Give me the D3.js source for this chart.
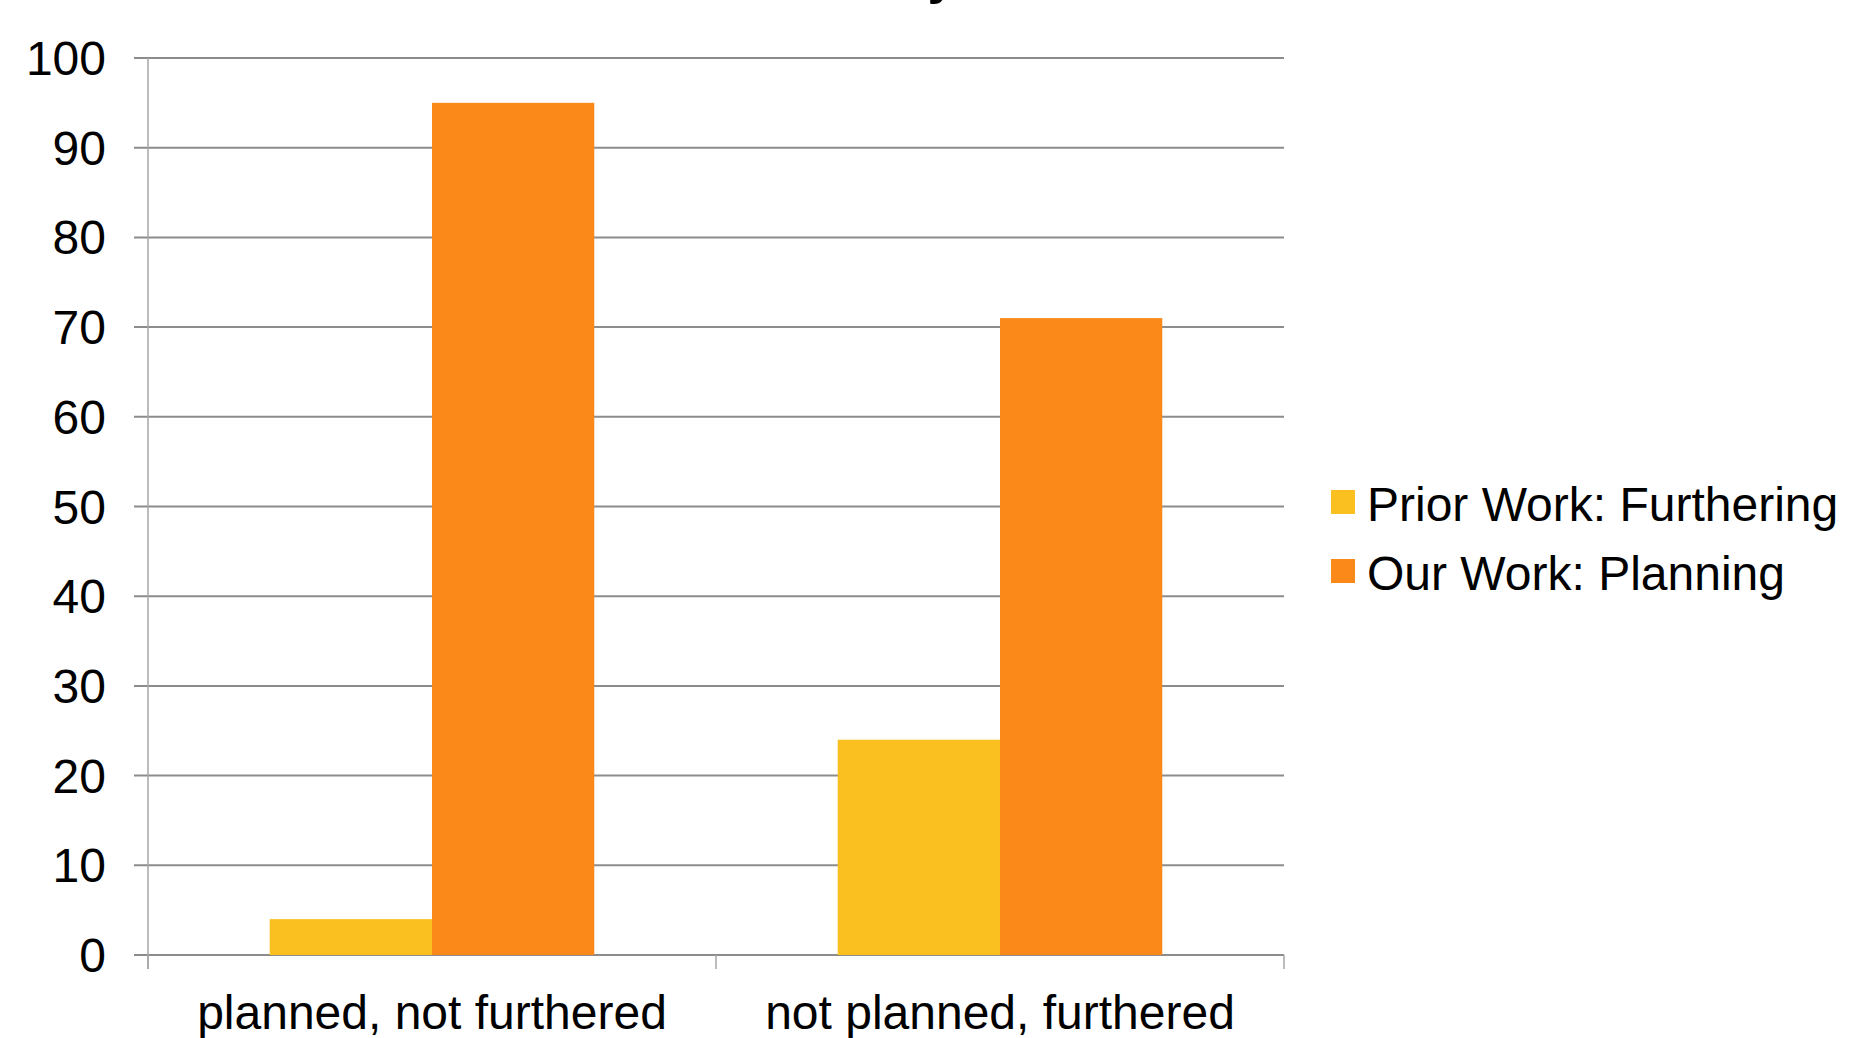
<!DOCTYPE html>
<html>
<head>
<meta charset="utf-8">
<script src="https://cdn.jsdelivr.net/npm/d3@7"></script>
<style>
  body { margin: 0; background: #fff; overflow: hidden; }
  text { font-family: "Liberation Sans", Arial, sans-serif; fill: #000; }
</style>
</head>
<body>
<div id="chart"></div>
<script>
// data
var categories = ["planned, not furthered", "not planned, furthered"];
var seriesNames = ["Prior Work: Furthering", "Our Work: Planning"];
var priorWork = [4, 24];
var ourWork = [95, 71];
var yTicks = [0, 10, 20, 30, 40, 50, 60, 70, 80, 90, 100];
var colours = ["#FAC020", "#FA8919"];

var width = 1849, height = 1038;
var plotLeft = 148, plotRight = 1284, plotTop = 58, plotBottom = 955;

var svg = d3.select("#chart").append("svg")
    .attr("width", width)
    .attr("height", height);

// title is cut off above the view, only the tail of a letter shows
svg.append("text")
    .attr("x", 942)
    .attr("y", -7)
    .attr("text-anchor", "middle")
    .style("font-size", "52px")
    .style("font-weight", "bold")
    .text("y");

var y = d3.scaleLinear().domain([0, 100]).range([plotBottom, plotTop]);
var x0 = d3.scaleBand().domain(categories).range([plotLeft, plotRight]).paddingInner(0).paddingOuter(0);
// gap width 150% -> bars take 2/3.5 of each band
var x1 = d3.scaleBand().domain(seriesNames).range([0, x0.bandwidth()]).paddingInner(0).paddingOuter(0.75);

// gridlines
svg.append("g")
  .selectAll("line")
  .data(yTicks)
  .enter().append("line")
    .attr("x1", plotLeft - 14)
    .attr("x2", plotRight)
    .attr("y1", function(d){ return y(d); })
    .attr("y2", function(d){ return y(d); })
    .style("stroke", "#8c8c8c")
    .style("stroke-width", 2);

// y axis line
svg.append("line")
    .attr("x1", plotLeft).attr("x2", plotLeft)
    .attr("y1", plotTop).attr("y2", plotBottom + 14)
    .style("stroke", "#a6a6a6")
    .style("stroke-width", 1.5);

// category dividers on x axis
var xTickPos = [plotLeft, plotLeft + x0.bandwidth(), plotRight];
svg.append("g")
  .selectAll("line")
  .data(xTickPos)
  .enter().append("line")
    .attr("x1", function(d){ return d; })
    .attr("x2", function(d){ return d; })
    .attr("y1", plotBottom)
    .attr("y2", plotBottom + 14)
    .style("stroke", "#a6a6a6")
    .style("stroke-width", 1.5);

// y tick labels
svg.append("g")
  .selectAll("text")
  .data(yTicks)
  .enter().append("text")
    .attr("x", 106)
    .attr("y", function(d){ return y(d) + 17; })
    .attr("text-anchor", "end")
    .style("font-size", "48px")
    .text(function(d){ return d; });

// bars
var rows = categories.map(function(c, i){
  return [
    {cat: c, name: seriesNames[0], value: priorWork[i], colour: colours[0]},
    {cat: c, name: seriesNames[1], value: ourWork[i], colour: colours[1]}
  ];
});

svg.append("g")
  .selectAll("g")
  .data(rows)
  .enter().append("g")
    .attr("transform", function(d){ return "translate(" + x0(d[0].cat) + ",0)"; })
  .selectAll("rect")
  .data(function(d){ return d; })
  .enter().append("rect")
    .attr("x", function(d){ return x1(d.name); })
    .attr("width", x1.bandwidth())
    .attr("y", function(d){ return y(d.value); })
    .attr("height", function(d){ return plotBottom - y(d.value); })
    .attr("fill", function(d){ return d.colour; });

// category labels
svg.append("g")
  .selectAll("text")
  .data(categories)
  .enter().append("text")
    .attr("x", function(d){ return x0(d) + x0.bandwidth() / 2; })
    .attr("y", 1029)
    .attr("text-anchor", "middle")
    .style("font-size", "48px")
    .text(function(d){ return d; });

// legend
var legend = svg.append("g")
  .selectAll("g")
  .data(seriesNames)
  .enter().append("g")
    .attr("transform", function(d, i){ return "translate(1331," + (490 + i * 69) + ")"; });

legend.append("rect")
    .attr("width", 24)
    .attr("height", 24)
    .attr("fill", function(d, i){ return colours[i]; });

legend.append("text")
    .attr("x", 36)
    .attr("y", 31)
    .style("font-size", "48px")
    .text(function(d){ return d; });
</script>
</body>
</html>
